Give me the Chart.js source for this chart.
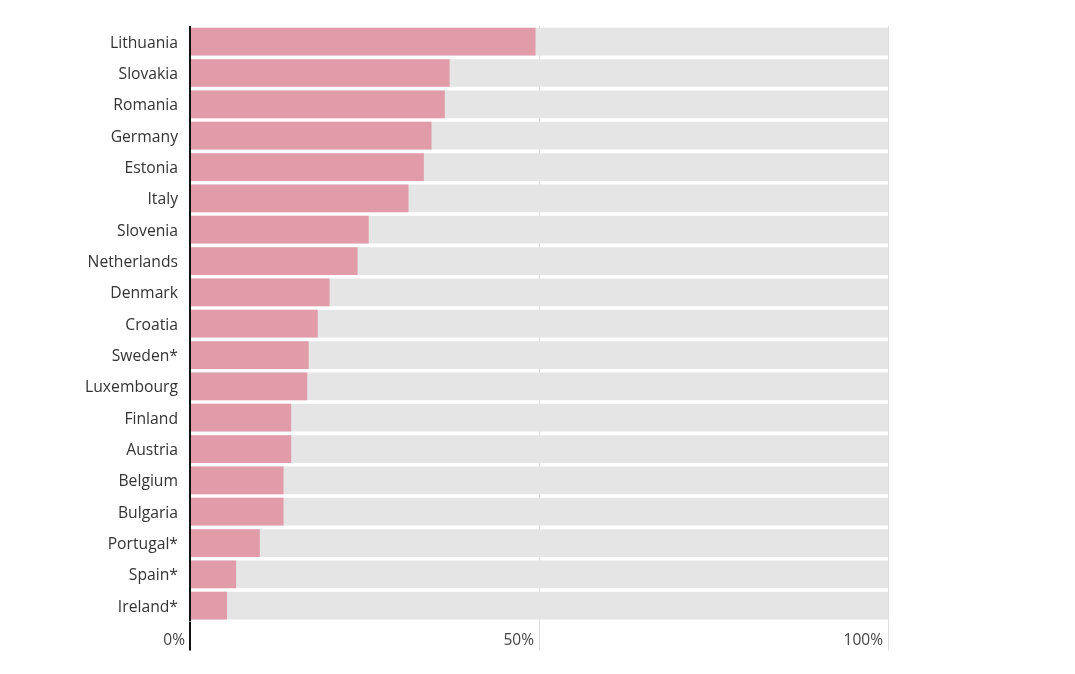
<!DOCTYPE html>
<html>
<head>
<meta charset="utf-8">
<script src="https://cdn.jsdelivr.net/npm/chart.js@4"></script>
<style>
  html, body { margin: 0; padding: 0; background: #ffffff; }
  #wrap { width: 1075px; height: 674px; }
</style>
</head>
<body>
<div id="wrap"><canvas id="c" width="1075" height="674"></canvas></div>
<script>
const countries = ["Lithuania","Slovakia","Romania","Germany","Estonia","Italy","Slovenia","Netherlands","Denmark","Croatia","Sweden*","Luxembourg","Finland","Austria","Belgium","Bulgaria","Portugal*","Spain*","Ireland*"];
const shares = [49.5,37.2,36.5,34.6,33.5,31.3,25.6,24.0,20.0,18.3,17.0,16.8,14.5,14.5,13.4,13.4,10.0,6.6,5.3];
const fullTrack = [100,100,100,100,100,100,100,100,100,100,100,100,100,100,100,100,100,100,100];
const xTickStep = 50;
const xTickSuffix = '%';

const FONT = "'Open Sans', 'Noto Sans', sans-serif";
const TICK_EXT = 29;

const gridColor = (i) => i === 0 ? '#111111' : '#dcdcdc';
const gridWidth = (i) => i === 0 ? 2 : 1;

// extends the x-axis grid lines below the plot area, past the tick labels
const tickExtender = {
  id: 'tickExtender',
  afterDraw(chart) {
    const s = chart.scales.x;
    const ctx = chart.ctx;
    const b = chart.chartArea.bottom;
    ctx.save();
    s.ticks.forEach((t, i) => {
      const lw = gridWidth(i);
      const px = s.getPixelForValue(t.value);
      const x = Math.round(px - lw / 2) + lw / 2;
      ctx.beginPath();
      ctx.strokeStyle = gridColor(i);
      ctx.lineWidth = lw;
      ctx.moveTo(x, b);
      ctx.lineTo(x, b + TICK_EXT);
      ctx.stroke();
    });
    ctx.restore();
  }
};

new Chart(document.getElementById('c'), {
  type: 'bar',
  data: {
    labels: countries,
    datasets: [
      {
        label: 'Share',
        data: shares,
        backgroundColor: '#e29ba9',
        borderWidth: 0,
        grouped: false,
        order: 0,
        categoryPercentage: 0.885,
        barPercentage: 1.0
      },
      {
        label: 'Track',
        data: fullTrack,
        backgroundColor: '#e5e5e5',
        borderWidth: 0,
        grouped: false,
        order: 1,
        categoryPercentage: 0.885,
        barPercentage: 1.0
      }
    ]
  },
  plugins: [tickExtender],
  options: {
    indexAxis: 'y',
    responsive: false,
    animation: false,
    events: [],
    layout: { padding: { top: 26, right: 187, bottom: 14, left: 0 } },
    plugins: { legend: { display: false }, tooltip: { enabled: false } },
    scales: {
      x: {
        type: 'linear',
        min: 0,
        max: 100,
        border: { display: false },
        grid: {
          color: (ctx) => gridColor(ctx.index),
          lineWidth: (ctx) => gridWidth(ctx.index),
          drawTicks: false
        },
        ticks: {
          stepSize: xTickStep,
          align: 'end',
          labelOffset: -5,
          padding: 10,
          maxRotation: 0,
          autoSkip: false,
          color: '#444444',
          font: { family: FONT, size: 15.5 },
          callback: (v) => v + xTickSuffix
        }
      },
      y: {
        afterFit: (scale) => { scale.width = 190; },
        border: { display: false },
        grid: { display: false, drawTicks: false },
        ticks: {
          padding: 12,
          labelOffset: 1.5,
          autoSkip: false,
          color: '#333333',
          font: { family: FONT, size: 15.7 }
        }
      }
    }
  }
});
</script>
</body>
</html>
